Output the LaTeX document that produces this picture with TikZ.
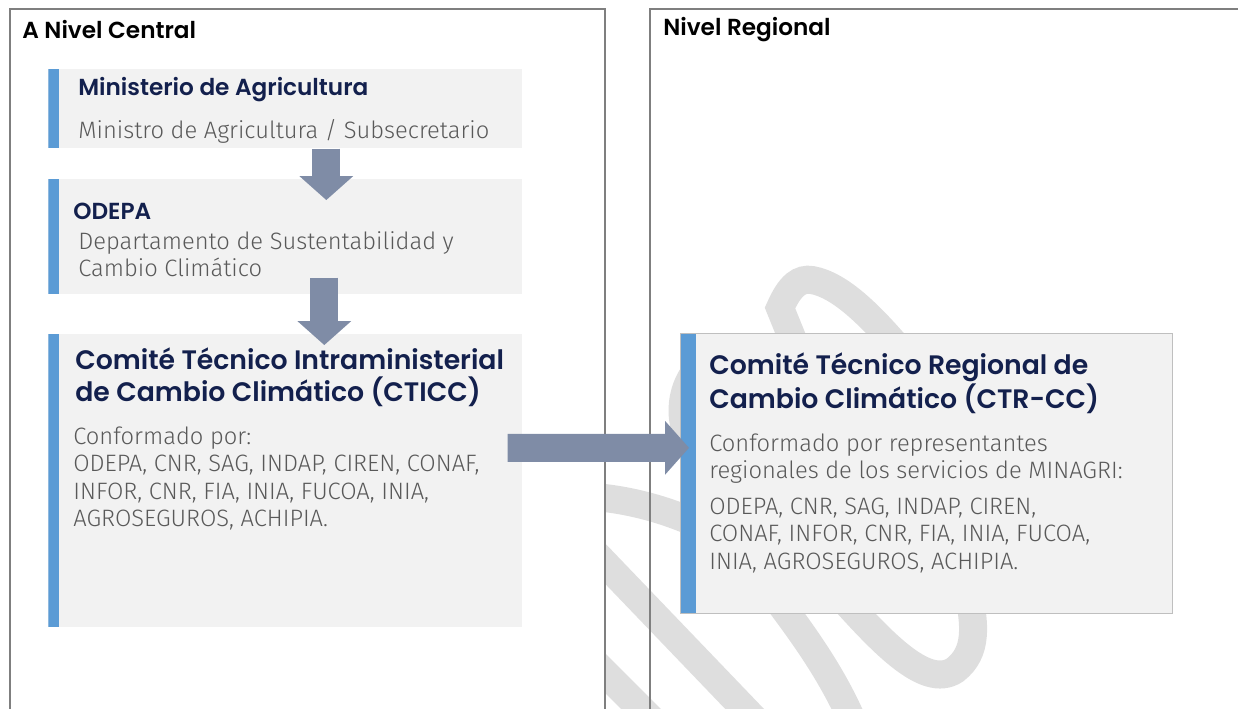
\documentclass[tikz,border=0pt]{standalone}
\usepackage{fontspec}
\newfontfamily\titulo{Poppins}[UprightFont=* SemiBold]
\newfontfamily\cuerpo{Fira Sans Light}
\usetikzlibrary{arrows.meta}

\definecolor{azulbarra}{HTML}{5B9BD5}
\definecolor{azuloscuro}{HTML}{13204D}
\definecolor{textogris}{HTML}{595959}
\definecolor{fondocaja}{HTML}{F2F2F2}
\definecolor{bordegris}{HTML}{7F7F7F}
\definecolor{flechagris}{HTML}{7F8CA6}
\definecolor{marcaagua}{HTML}{DEDEDE}

\begin{document}
\begin{tikzpicture}[x=0.02cm, y=-0.02cm,
    panel/.style={rectangle, draw=bordegris, line width=1.1pt, anchor=north west, inner sep=0},
    caja/.style={rectangle, fill=fondocaja, anchor=north west, inner sep=0,
        path picture={\fill[azulbarra] (path picture bounding box.north west) rectangle ([xshift=#1]path picture bounding box.south west);}},
    tituloPanel/.style={font=\titulo\fontsize{13.2}{15}\selectfont, anchor=west, inner sep=0},
    encabezado/.style={font=\titulo\fontsize{13.2}{15}\selectfont, text=azuloscuro, anchor=west, inner sep=0},
    encabezadoGrande/.style={font=\titulo\fontsize{15.2}{18.1}\selectfont, text=azuloscuro, anchor=west, align=left, inner sep=0},
    texto/.style={font=\cuerpo\fontsize{13.5}{15.5}\selectfont, text=textogris, anchor=west, align=left, inner sep=0},
    flecha/.style={draw=flechagris, line width=15.9pt, -{Triangle[width=30.6pt, length=13.6pt, line width=0pt]}},
    marca/.style={draw=marcaagua, line width=0.56cm}
]
\useasboundingbox (0,0) rectangle (1238,708);
\clip (0,0) rectangle (1238,708);

% Marca de agua
\begin{scope}
\clip (604,0) rectangle (1238,708);
\draw[marca] (795,345) -- (780,308) .. controls (790,285) and (800,278) .. (812,280) .. controls (840,285) and (870,315) .. (900,350);
\draw[marca, line width=0.4cm] (700,360) .. controls (675,385) and (672,420) .. (690,450);
\draw[marca] (595,497) .. controls (630,500) and (670,510) .. (710,530);
\draw[marca] (595,553) -- (760,725);
\draw[marca] (595,663) -- (660,728);
\draw[marca] (770,590) .. controls (800,630) and (830,670) .. (852,720);
\draw[marca] (835,590) .. controls (880,640) and (925,690) .. (955,670) .. controls (978,652) and (975,625) .. (968,590);
\end{scope}

% Niveles
\node[panel, minimum width=11.9cm, minimum height=14.5cm] (central) at (9,8) {};
\node[panel, minimum width=12.5cm, minimum height=14.5cm] (regional) at (649,8) {};
\node[tituloPanel] (tcentral) at (22,30) {A Nivel Central};
\node[tituloPanel] (tregional) at (663,30) {Nivel Regional};

% Cajas
\node[caja=0.22cm, minimum width=9.48cm, minimum height=1.58cm] (min) at (48,69) {};
\node[caja=0.22cm, minimum width=9.48cm, minimum height=2.3cm] (odepa) at (48,179) {};
\node[caja=0.22cm, minimum width=9.48cm, minimum height=5.86cm] (cticc) at (48,334) {};
\node[caja=0.32cm, draw=gray!50, line width=0.4pt, minimum width=9.84cm, minimum height=5.6cm] (ctrcc) at (680,333) {};

% Flechas
\draw[flecha] ([shift={(41,0)}]min.south) -- ([shift={(41,21)}]odepa.north);
\draw[flecha] ([shift={(39,-17)}]odepa.south) -- ([shift={(39,11)}]cticc.north);
\draw[flecha] ([shift={(-15,-33)}]cticc.east) -- ([shift={(9,-25.5)}]ctrcc.west);

% Textos
\node[encabezado] (tmin) at (78,90) {Ministerio de Agricultura};
\node[texto] (smin) at (78,131) {Ministro de Agricultura / Subsecretario};
\node[encabezado] (todepa) at (73,211) {ODEPA};
\node[texto] (sodepa) at (78,254.5) {Departamento de Sustentabilidad y\\Cambio Climático};
\node[encabezadoGrande] (tcticc) at (75,377) {Comité Técnico Intraministerial\\de Cambio Climático (CTICC)};
\node[texto] (scticc) at (73,478.5) {Conformado por:\\ODEPA, CNR, SAG, INDAP, CIREN, CONAF,\\INFOR, CNR, FIA, INIA, FUCOA, INIA,\\AGROSEGUROS, ACHIPIA.};
\node[encabezadoGrande] (tctrcc) at (709,383.5) {Comité Técnico Regional de\\Cambio Climático (CTR-CC)};
\node[texto] (sctrcc) at (709,458.5) {Conformado por representantes\\regionales de los servicios de MINAGRI:};
\node[texto] (lctrcc) at (709,535.5) {ODEPA, CNR, SAG, INDAP, CIREN,\\CONAF, INFOR, CNR, FIA, INIA, FUCOA,\\INIA, AGROSEGUROS, ACHIPIA.};

\end{tikzpicture}
\end{document}
